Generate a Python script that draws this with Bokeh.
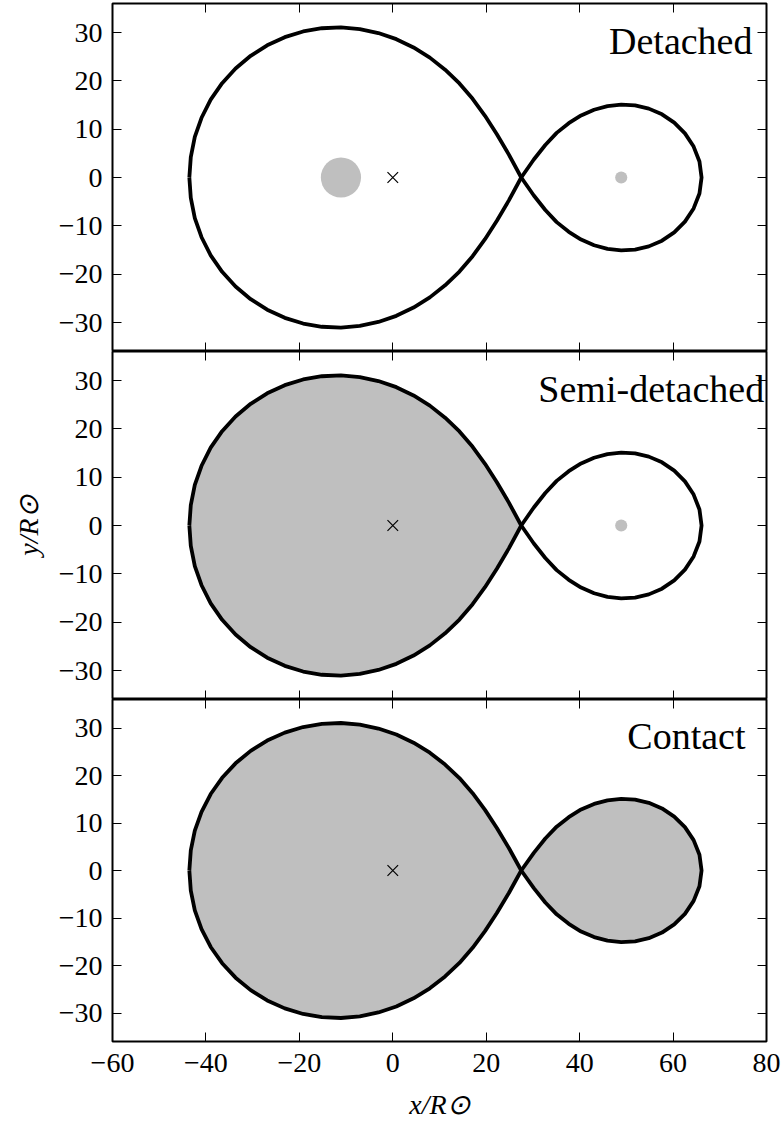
from bokeh.plotting import figure
from bokeh.layouts import column
from bokeh.models import FixedTicker, LinearAxis, Label, Range1d, CustomLabelingPolicy
from bokeh.embed import file_html
from bokeh.resources import INLINE

# Roche-lobe outlines, upper half only (the lower half is the mirror image), in solar radii
primary_x = [-43.55, -43.24, -42.38, -40.94, -38.98, -36.53, -33.66, -30.42, -26.89,
             -23.12, -19.19, -15.17, -11.10, -7.06, -3.09, 0.76, 4.44, 7.93, 11.20,
             14.27, 17.09, 19.74, 22.28, 24.85, 27.5]
primary_y = [0.0, 4.23, 8.38, 12.36, 16.10, 19.51, 22.56, 25.18, 27.35,
             29.03, 30.21, 30.88, 31.05, 30.72, 29.89, 28.62, 26.91, 24.80, 22.30,
             19.47, 16.28, 12.77, 8.94, 4.73, 0.0]
secondary_x = [27.5, 30.19, 32.65, 35.08, 37.67, 40.31, 43.09, 45.96, 48.90,
               51.87, 54.80, 57.63, 60.25, 62.54, 64.40, 65.65, 66.10]
secondary_y = [0.0, 3.72, 6.73, 9.23, 11.23, 12.85, 14.02, 14.78, 15.08,
               14.92, 14.25, 13.07, 11.35, 9.12, 6.40, 3.30, 0.0]

# stars: positions and radii (solar radii)
star_x = [-11.1, 48.9]
star_r = [4.3, 1.3]
com_x = [0.0]
com_y = [0.0]

panel_titles = ["Detached", "Semi-detached", "Contact"]
title_x = [77.0, 79.5, 75.5]
title_y = 28.3
fill_primary_lobe = [False, True, True]
fill_secondary_lobe = [False, False, True]
show_primary_star = [True, False, False]
show_secondary_star = [True, True, False]

x_ticks = [-60, -40, -20, 0, 20, 40, 60, 80]
y_ticks = [-30, -20, -10, 0, 10, 20, 30]

GREY = "#bfbfbf"
SERIF = "Liberation Serif"

# tick marks only: drop every label on the unlabelled sides
no_labels = CustomLabelingPolicy(code="""
for (const i of indices) { indices.unset(i) }
return indices
""")


def closed(xs, ys):
    """Close an upper-half outline with its reflection about y = 0."""
    return xs + xs[-2:0:-1], ys + [-v for v in ys[-2:0:-1]]


def minus(v):
    return ("\u2212" + str(abs(v))) if v < 0 else str(v)


def style_axis(ax, ticks, labelled):
    ax.ticker = FixedTicker(ticks=ticks)
    ax.axis_line_color = None
    ax.major_tick_in = 9
    ax.major_tick_out = 0
    ax.major_tick_line_color = "black"
    ax.major_tick_line_width = 1
    ax.minor_tick_line_color = None
    if labelled:
        ax.major_label_overrides = {t: minus(t) for t in ticks}
        ax.major_label_text_font = SERIF
        ax.major_label_text_font_size = "28px"
        ax.major_label_text_color = "black"
    else:
        ax.major_label_policy = no_labels
        ax.major_label_text_font_size = "0px"
        ax.major_label_standoff = 0


def style_label(ax, text, standoff):
    ax.axis_label = text
    ax.axis_label_text_font = SERIF
    ax.axis_label_text_font_size = "28px"
    ax.axis_label_text_font_style = "italic"
    ax.axis_label_text_color = "black"
    ax.axis_label_standoff = standoff


x_range = Range1d(-60, 80)
heights = [351, 348, 423]
tops = [3, 0, 0]
bottoms = [0, 0, 75]

panels = []
for i in range(3):
    p = figure(width=782, height=heights[i], x_range=x_range, y_range=Range1d(-36, 36),
               output_backend="svg", toolbar_location=None,
               x_axis_location=None, y_axis_location=None,
               min_border_left=112, min_border_right=16,
               min_border_top=tops[i], min_border_bottom=bottoms[i])
    p.xgrid.visible = False
    p.ygrid.visible = False
    p.outline_line_color = "black"
    p.outline_line_width = 2
    p.background_fill_color = "white"
    p.border_fill_color = "white"

    left = LinearAxis()
    style_axis(left, y_ticks, True)
    left.major_label_standoff = 10
    if i == 1:
        style_label(left, "y/R\u2299", 12)
    p.add_layout(left, "left")

    right = LinearAxis()
    style_axis(right, y_ticks, False)
    p.add_layout(right, "right")

    top = LinearAxis()
    style_axis(top, x_ticks, False)
    p.add_layout(top, "above")

    bottom = LinearAxis()
    style_axis(bottom, x_ticks, i == 2)
    if i == 2:
        bottom.major_label_standoff = 12
        style_label(bottom, "x/R\u2299", 14)
    p.add_layout(bottom, "below")

    px, py = closed(primary_x, primary_y)
    sx, sy = closed(secondary_x, secondary_y)

    if fill_primary_lobe[i]:
        p.patch(px, py, fill_color=GREY, line_color=None)
    if fill_secondary_lobe[i]:
        p.patch(sx, sy, fill_color=GREY, line_color=None)
    if show_primary_star[i]:
        p.circle(x=[star_x[0]], y=[0.0], radius=star_r[0], fill_color=GREY, line_color=None)
    if show_secondary_star[i]:
        p.circle(x=[star_x[1]], y=[0.0], radius=star_r[1], fill_color=GREY, line_color=None)

    p.line(px + [px[0]], py + [py[0]], line_color="black", line_width=3.8, line_join="round")
    p.line(sx + [sx[0]], sy + [sy[0]], line_color="black", line_width=3.8, line_join="round")

    p.scatter(com_x, com_y, marker="x", size=15, line_color="black", line_width=1.2)

    p.add_layout(Label(x=title_x[i], y=title_y, text=panel_titles[i], text_align="right",
                       text_baseline="alphabetic", text_font=SERIF,
                       text_font_size="38px", text_color="black"))
    panels.append(p)

layout = column(*panels, spacing=0)
open("out.html", "w").write(file_html(layout, INLINE))
